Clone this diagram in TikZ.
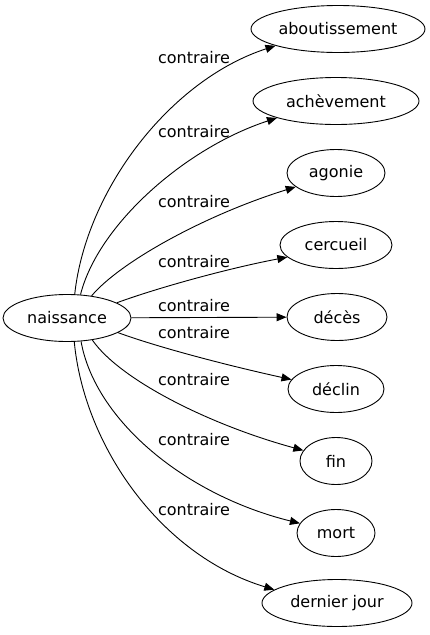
\documentclass[tikz,border=0pt]{standalone}
\usepackage{fontspec}
\setmainfont{DejaVu Sans}
\usetikzlibrary{shapes.geometric,arrows.meta}
\begin{document}
\begin{tikzpicture}[x=1pt,y=-1pt,
  every node/.style={font=\fontsize{16}{19}\selectfont, text=black},
  wordnode/.style={ellipse,draw,line width=0.9pt,minimum height=47pt,inner sep=0pt},
  edgeline/.style={line width=0.9pt,-{Triangle[length=10pt,width=8pt]}},
  lbl/.style={inner sep=0pt}]
\useasboundingbox (0,0) rectangle (430,635);
\node[wordnode,minimum width=128pt] (n0) at (67,318) {naissance};
\node[wordnode,minimum width=174pt] (a) at (338,29) {aboutissement};
\node[wordnode,minimum width=166pt] (b) at (336,101) {achèvement};
\node[wordnode,minimum width=98pt] (c) at (336,173) {agonie};
\node[wordnode,minimum width=112pt] (d) at (336,245) {cercueil};
\node[wordnode,minimum width=100pt] (e) at (337,317) {décès};
\node[wordnode,minimum width=96pt] (f) at (336,389) {déclin};
\node[wordnode,minimum width=72pt] (g) at (336,461) {fin};
\node[wordnode,minimum width=78pt] (h) at (336,533) {mort};
\node[wordnode,minimum width=150pt] (i) at (337,603) {dernier jour};

\draw[edgeline] (n0.72) .. controls (86,190) and (170,80) .. (a.195);
\draw[edgeline] (n0.60) .. controls (98,225) and (185,148) .. (b.196);
\draw[edgeline] (n0.42) .. controls (120,262) and (205,215) .. (c.199);
\draw[edgeline] (n0.17) .. controls (160,287) and (230,268) .. (d.194);
\draw[edgeline] (n0) -- (e);
\draw[edgeline] (n0.-16) .. controls (160,348) and (230,366) .. (f.168);
\draw[edgeline] (n0.-41) .. controls (120,380) and (210,425) .. (g.162);
\draw[edgeline] (n0.-59) .. controls (95,420) and (185,495) .. (h.165);
\draw[edgeline] (n0.-73) .. controls (84,445) and (160,555) .. (i.168);

\node[lbl] (l1) at (194,58) {contraire};
\node[lbl] (l2) at (194,132) {contraire};
\node[lbl] (l3) at (194,202) {contraire};
\node[lbl] (l4) at (194,262) {contraire};
\node[lbl] (l5) at (194,306) {contraire};
\node[lbl] (l6) at (194,333) {contraire};
\node[lbl] (l7) at (194,380) {contraire};
\node[lbl] (l8) at (194,440) {contraire};
\node[lbl] (l9) at (194,510) {contraire};
\end{tikzpicture}
\end{document}
